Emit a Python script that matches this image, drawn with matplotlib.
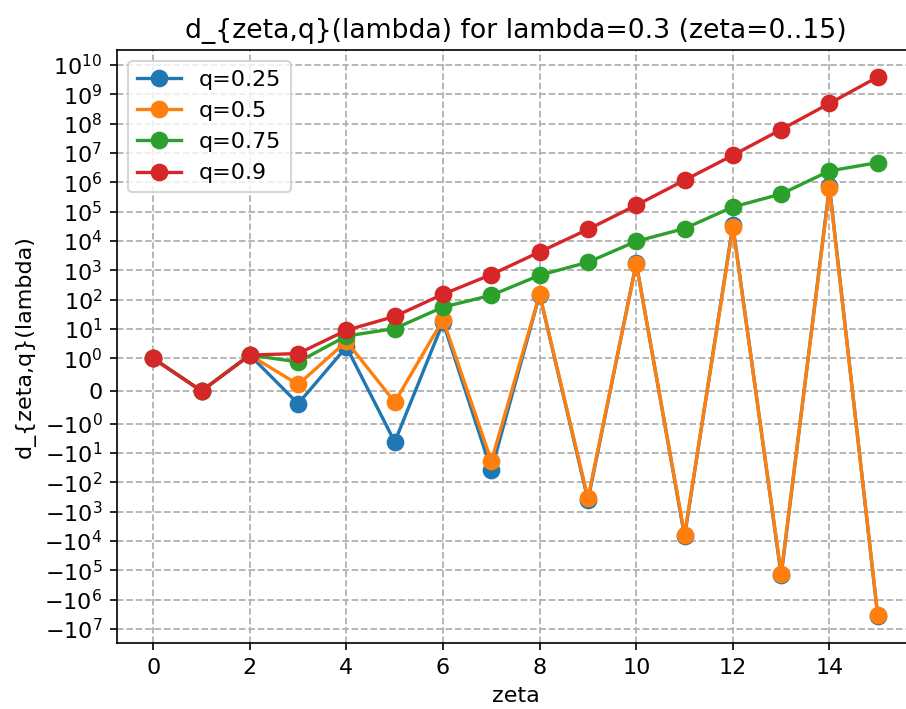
import matplotlib
matplotlib.use("Agg")
import matplotlib.pyplot as plt
import numpy as np

zeta = list(range(16))

d_q025 = [1, 0, 1.3, -0.39, 2.45, -4.2, 17, -39, 150, -410, 1800, -6950, 34500, -1.5e5, 7.4e5, -3.7e6]
d_q050 = [1, 0, 1.3, 0.20, 3.8, -0.34, 21, -19, 154, -345, 1700, -6100, 30000, -1.3e5, 6.2e5, -3.4e6]
d_q075 = [1, 0, 1.3, 0.89, 5.8, 10.4, 56, 142, 680, 1900, 9800, 26700, 1.45e5, 4.0e5, 2.45e6, 4.7e6]
d_q090 = [1, 0, 1.3, 1.46, 9.1, 27, 154, 720, 4240, 25000, 1.66e5, 1.18e6, 8.4e6, 6.3e7, 4.9e8, 3.9e9]

series = [("q=0.25", d_q025), ("q=0.5", d_q050), ("q=0.75", d_q075), ("q=0.9", d_q090)]

plt.rcParams["font.size"] = 10.67

fig = plt.figure(figsize=(906/150, 709/150), dpi=150)
ax = fig.add_axes([117/906, 1 - 643.3/709, 797/906, 593.3/709])

for lab, vals in series:
    ax.plot(zeta, vals, marker="o", markersize=7.5, linewidth=1.6, label=lab)

ax.set_yscale("symlog", linthresh=1)
ax.yaxis.set_minor_locator(matplotlib.ticker.NullLocator())
ax.grid(True, linestyle="--", color="#b0b0b0", linewidth=0.85)
ax.set_xlabel("zeta")
ax.set_ylabel("d_{zeta,q}(lambda)")
ax.set_title("d_{zeta,q}(lambda) for lambda=0.3 (zeta=0..15)")
ax.legend(loc="upper left")

fig.savefig("out.png", dpi=150)
